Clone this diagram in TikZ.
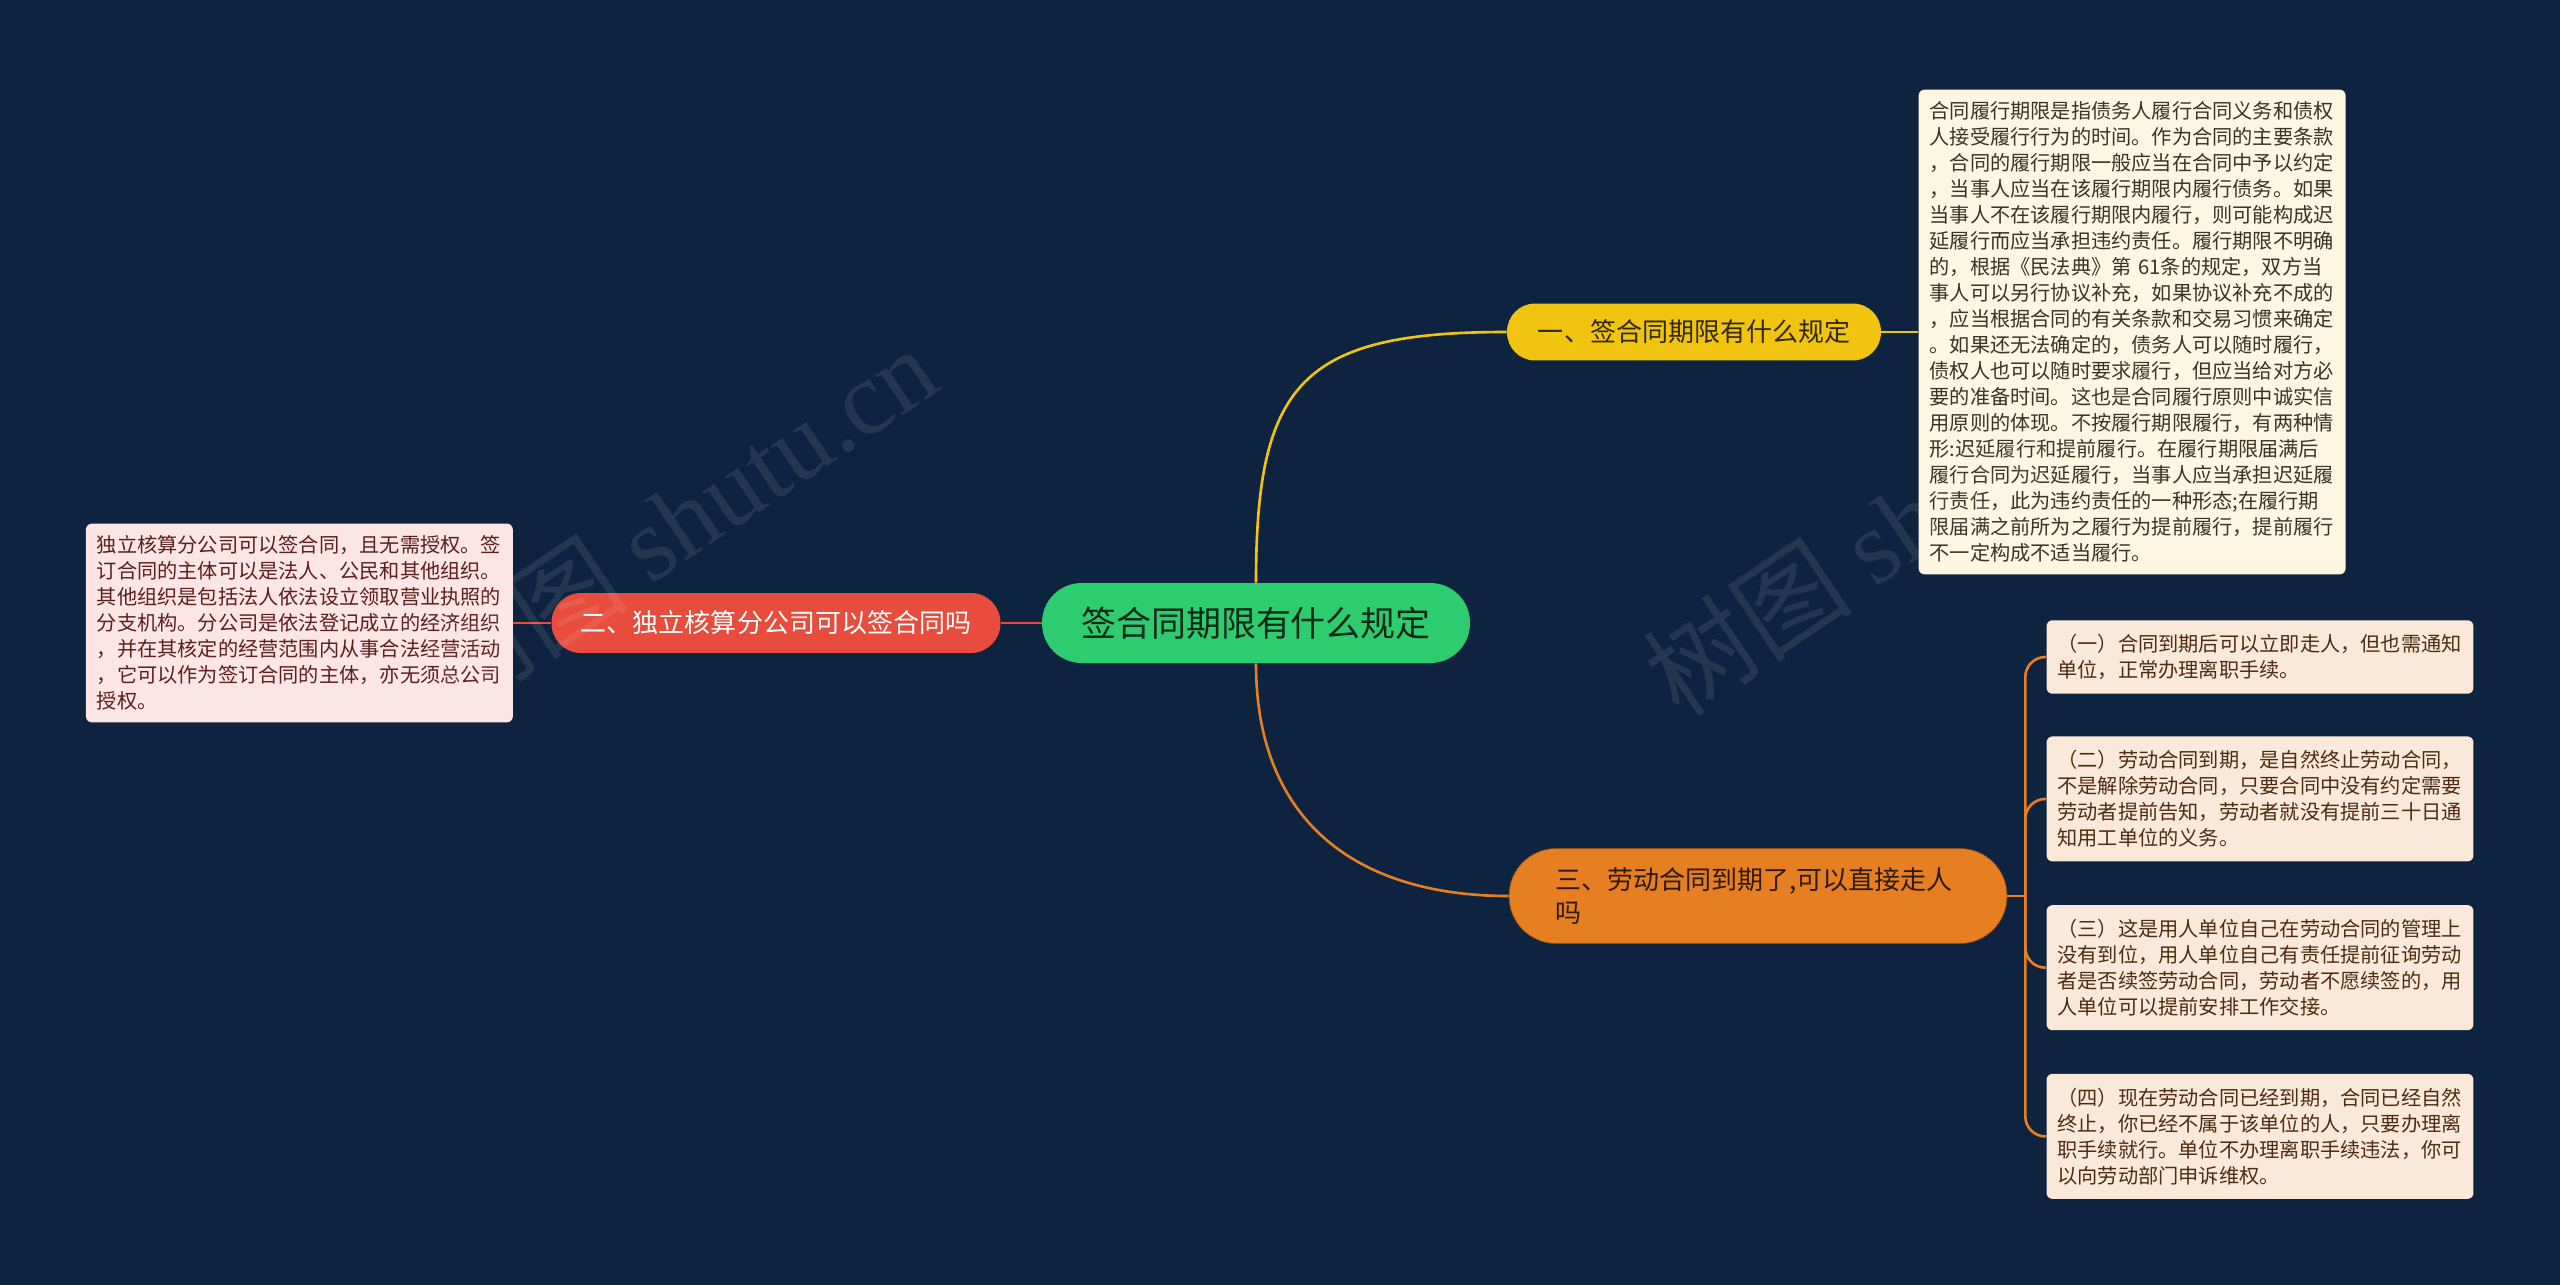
\documentclass[tikz,border=0pt]{standalone}
\usepackage{fontspec}
\setmainfont{Noto Sans CJK SC}
\newfontfamily\markfont{Liberation Serif}
\usetikzlibrary{positioning}
\definecolor{mapbg}{RGB}{13,35,63}
\definecolor{rootgreen}{RGB}{46,204,113}
\definecolor{oneyellow}{RGB}{241,196,15}
\definecolor{twored}{RGB}{231,76,60}
\definecolor{threeorange}{RGB}{230,126,34}
\definecolor{creamnote}{RGB}{253,246,225}
\definecolor{pinknote}{RGB}{252,229,229}
\definecolor{peachnote}{RGB}{250,232,216}
\definecolor{creamink}{RGB}{58,52,34}
\definecolor{pinkink}{RGB}{92,30,30}
\definecolor{peachink}{RGB}{78,44,18}

\begin{document}
\begin{tikzpicture}[x=0.02cm, y=-0.02cm,
    note/.style={fill=#1, rounded corners=0.12cm, text width=8.1cm, inner xsep=0.22cm, inner ysep=0.24cm, align=left, font=\fontsize{11.5}{14.8}\selectfont},
    peach/.style={note=peachnote, text=peachink, inner ysep=0.28cm},
    link/.style={draw=#1, line width=1.5pt},
    wmark/.style={rotate=34, text=white, text opacity=0.09, font=\fontsize{60}{60}\selectfont},
]
\fill[mapbg] (0,0) rectangle (2560,1285);
\useasboundingbox (0,0) rectangle (2560,1285);

% main topic and the three questions
\node[fill=rootgreen, rounded corners=0.79cm, minimum width=8.56cm, minimum height=1.6cm, text=black!80!rootgreen, font=\fontsize{19.9}{24}\selectfont] (root) at (1256,623) {签合同期限有什么规定};
\node[fill=oneyellow, rounded corners=0.56cm, minimum width=7.48cm, minimum height=1.14cm, text=black!80!oneyellow, font=\fontsize{14.8}{18.5}\selectfont] (one) at (1694,332) {一、签合同期限有什么规定};
\node[fill=twored, rounded corners=0.59cm, minimum width=8.98cm, minimum height=1.2cm, text=white, font=\fontsize{14.8}{18.5}\selectfont] (two) at (776,623) {二、独立核算分公司可以签合同吗};
\node[fill=threeorange, draw=black!40!threeorange, rounded corners=0.94cm, minimum width=9.96cm, minimum height=1.9cm, text width=8.1cm, align=left, text=black!80!threeorange, font=\fontsize{14.8}{18.5}\selectfont] (three) at (1758,896) {三、劳动合同到期了,可以直接走人\\吗};

% answers
\node[note=creamnote, text=creamink, right=0.74cm of one] (onetxt) {合同履行期限是指债务人履行合同义务和债权\\人接受履行行为的时间。作为合同的主要条款\\，合同的履行期限一般应当在合同中予以约定\\，当事人应当在该履行期限内履行债务。如果\\当事人不在该履行期限内履行，则可能构成迟\\延履行而应当承担违约责任。履行期限不明确\\的，根据《民法典》第 61条的规定，双方当\\事人可以另行协议补充，如果协议补充不成的\\，应当根据合同的有关条款和交易习惯来确定\\。如果还无法确定的，债务人可以随时履行，\\债权人也可以随时要求履行，但应当给对方必\\要的准备时间。这也是合同履行原则中诚实信\\用原则的体现。不按履行期限履行，有两种情\\形:迟延履行和提前履行。在履行期限届满后\\履行合同为迟延履行，当事人应当承担迟延履\\行责任，此为违约责任的一种形态;在履行期\\限届满之前所为之履行为提前履行，提前履行\\不一定构成不适当履行。};
\node[note=pinknote, text=pinkink, left=0.76cm of two] (twotxt) {独立核算分公司可以签合同，且无需授权。签\\订合同的主体可以是法人、公民和其他组织。\\其他组织是包括法人依法设立领取营业执照的\\分支机构。分公司是依法登记成立的经济组织\\，并在其核定的经营范围内从事合法经营活动\\，它可以作为签订合同的主体，亦无须总公司\\授权。};

\node[peach] (r1) at (2260,657) {（一）合同到期后可以立即走人，但也需通知\\单位，正常办理离职手续。};
\node[peach, below=0.84cm of r1] (r2) {（二）劳动合同到期，是自然终止劳动合同，\\不是解除劳动合同，只要合同中没有约定需要\\劳动者提前告知，劳动者就没有提前三十日通\\知用工单位的义务。};
\node[peach, below=0.86cm of r2] (r3) {（三）这是用人单位自己在劳动合同的管理上\\没有到位，用人单位自己有责任提前征询劳动\\者是否续签劳动合同，劳动者不愿续签的，用\\人单位可以提前安排工作交接。};
\node[peach, below=0.86cm of r3] (r4) {（四）现在劳动合同已经到期，合同已经自然\\终止，你已经不属于该单位的人，只要办理离\\职手续就行。单位不办理离职手续违法，你可\\以向劳动部门申诉维权。};

% connectors
\draw[link=oneyellow] (root.north) to[out=90, in=180, out distance=4cm, in distance=4.1cm] (one.west);
\draw[link=twored] (root.west) -- (two.east);
\draw[link=threeorange] (root.south) to[out=-90, in=180, out distance=3.2cm, in distance=3cm] (three.west);
\draw[link=oneyellow] (one.east) -- (onetxt.west);
\draw[link=twored] (two.west) -- (twotxt.east);
\coordinate[right=0.36cm of three.east] (fork);
\draw[link=threeorange] (three.east) -- (fork);
\foreach \r in {r1,r2,r3,r4}
    \draw[link=threeorange, rounded corners=0.4cm] (fork) |- (\r.west);

% watermark
\node[wmark] (markleft) at (678,519) {树图 {\markfont shutu.cn}};
\node[wmark] (markright) at (1902,522) {树图 {\markfont shutu.cn}};
\end{tikzpicture}
\end{document}
